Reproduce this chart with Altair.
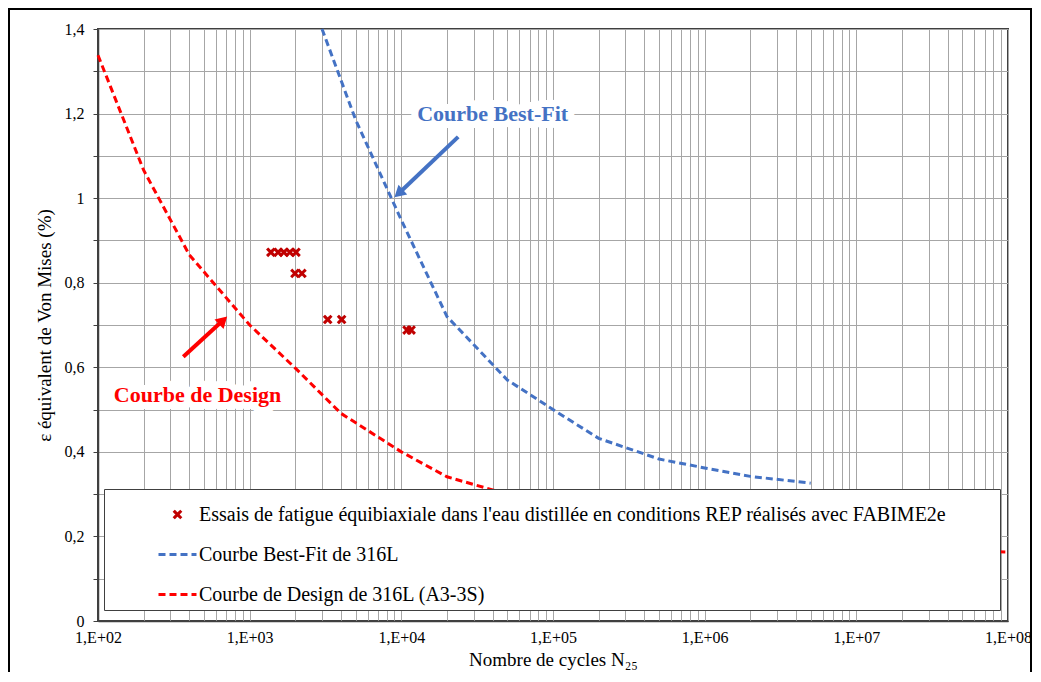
import altair as alt
import pandas as pd

# ---------------- data ----------------
essais_n = [1380, 1540, 1680, 1840, 2020, 1990, 2210, 3270, 4040, 10900, 11600]
essais_eps = [0.872, 0.872, 0.872, 0.872, 0.872, 0.822, 0.822, 0.713, 0.713, 0.688, 0.688]

bestfit_n = [3000, 5000, 1e4, 2e4, 5e4, 1e5, 2e5, 5e5, 1e6, 2e6, 5e6]
bestfit_eps = [1.40, 1.185, 0.948, 0.72, 0.57, 0.50, 0.432, 0.383, 0.362, 0.342, 0.326]

design_n = [100, 200, 400, 1000, 2000, 4000, 1e4, 2e4, 4e4, 1e5, 1e6, 1e7, 1e8]
design_eps = [1.338, 1.066, 0.866, 0.70, 0.598, 0.491, 0.400, 0.341, 0.31, 0.27, 0.20, 0.172, 0.163]

series_labels = [
    "Essais de fatigue équibiaxiale dans l'eau distillée en conditions REP  réalisés avec FABIME2e",
    "Courbe Best-Fit de 316L",
    "Courbe de Design de 316L (A3-3S)",
]

annot_text = ["Courbe Best-Fit", "Courbe de Design"]
annot_n = [40000, 453]
annot_eps = [1.2, 0.534]

# arrows: start (n, eps) -> tip (n2, eps2)
arrow_n = [23700, 365]
arrow_eps = [1.145, 0.625]
arrow_n2 = [9600, 668]
arrow_eps2 = [1.011, 0.711]

x_ticks = [m * 10 ** k for k in range(2, 8) for m in range(1, 10)] + [10 ** 8]
y_ticks = [round(i * 0.1, 1) for i in range(0, 15)]

# ---------------- styling ----------------
FONT = "Liberation Serif"
C_ESSAI = "#C00000"
C_BEST = "#4472C4"
C_DESIGN = "#FF0000"
X_PATH = "M-0.2,-0.2L0.2,0.2M-0.2,0.2L0.2,-0.2"
LINE_PATH = "M-1,0L1,0"

df_essais = pd.DataFrame({"n": essais_n, "eps": essais_eps, "serie": series_labels[0]})
df_best = pd.DataFrame({"n": bestfit_n, "eps": bestfit_eps})
df_design = pd.DataFrame({"n": design_n, "eps": design_eps})
df_annot = pd.DataFrame({"n": annot_n, "eps": annot_eps, "txt": annot_text})
df_arrow = pd.DataFrame({"n": arrow_n, "eps": arrow_eps, "n2": arrow_n2, "eps2": arrow_eps2})

xscale = alt.Scale(type="log", domain=[100, 1e8], nice=False)
yscale = alt.Scale(domain=[0, 1.4], nice=False)

x_label_expr = (
    "abs(log(datum.value)/LN10 - round(log(datum.value)/LN10)) < 0.001 ? "
    "'1,E+' + (round(log(datum.value)/LN10) < 10 ? '0' : '') + round(log(datum.value)/LN10) : ''"
)
y_label_expr = "round(datum.value*10) % 2 == 0 ? replace(format(datum.value, '.1~f'), '.', ',') : ''"

xaxis = alt.Axis(
    values=x_ticks, labelExpr=x_label_expr, ticks=False, grid=True,
    labelFlush=False, labelOverlap=False, labelPadding=8, titlePadding=5,
    labelFont=FONT, labelFontSize=16, labelColor="black",
    titleFont=FONT, titleFontSize=19, titleFontWeight="normal", titleColor="black",
)
yaxis = alt.Axis(
    values=y_ticks, labelExpr=y_label_expr, ticks=True, tickSize=5, grid=True,
    labelOverlap=False, labelPadding=9, titlePadding=10,
    labelFont=FONT, labelFontSize=16, labelColor="black",
    titleFont=FONT, titleFontSize=19, titleFontWeight="normal", titleColor="black",
)

X = alt.X("n:Q", scale=xscale, axis=xaxis, title="Nombre de cycles N₂₅")
Y = alt.Y("eps:Q", scale=yscale, axis=yaxis, title="ε équivalent de Von Mises (%)")

legend = alt.Legend(
    title="\u00a0", titleOrient="right", titlePadding=44, titleFontSize=1,
    orient="none", legendX=6, legendY=460,
    fillColor="white", strokeColor="#404040", padding=5,
    symbolOffset=48, symbolSize=1444, symbolStrokeWidth=3,
    labelFont=FONT, labelFontSize=20, labelColor="black", labelOffset=1,
    labelLimit=1200, rowPadding=9,
)

# frame around the whole figure (decoration)
frame = alt.Chart(pd.DataFrame({"a": [0]})).mark_rect(
    fillOpacity=0, stroke="black", strokeWidth=2
).encode(
    x=alt.value(-89), x2=alt.value(933), y=alt.value(-20), y2=alt.value(700)
)

halo = alt.Chart(df_annot).mark_text(
    font=FONT, fontSize=22, fontWeight="bold", fill="white", stroke="white",
    strokeWidth=14, strokeJoin="round"
).encode(x=X, y=Y, text="txt:N")

best_line = alt.Chart(df_best).mark_line(
    color=C_BEST, strokeWidth=3, strokeDash=[7, 4]
).encode(x=X, y=Y)

design_line = alt.Chart(df_design).mark_line(
    color=C_DESIGN, strokeWidth=3, strokeDash=[7, 4]
).encode(x=X, y=Y)

points = alt.Chart(df_essais).mark_point(
    filled=False, strokeWidth=3, size=1444, opacity=1
).encode(
    x=X, y=Y,
    color=alt.Color("serie:N", scale=alt.Scale(domain=series_labels, range=[C_ESSAI, C_BEST, C_DESIGN]), legend=legend),
    shape=alt.Shape("serie:N", scale=alt.Scale(domain=series_labels, range=[X_PATH, LINE_PATH, LINE_PATH]), legend=legend),
    strokeDash=alt.StrokeDash("serie:N", scale=alt.Scale(domain=series_labels, range=[[1, 0], [7, 4], [7, 4]]), legend=legend),
)

arrow_colors = [C_BEST, C_DESIGN]
arrow_angles = [228, 46]
arrow_layers = []
for i in range(2):
    d = df_arrow.iloc[[i]]
    arrow_layers.append(
        alt.Chart(d).mark_rule(color=arrow_colors[i], strokeWidth=4).encode(
            x=X, y=Y, x2="n2:Q", y2="eps2:Q"
        )
    )
    arrow_layers.append(
        alt.Chart(d).mark_point(
            shape="triangle-up", filled=True, color=arrow_colors[i], size=170,
            angle=arrow_angles[i], opacity=1
        ).encode(
            x=alt.X("n2:Q", scale=xscale, axis=xaxis, title="Nombre de cycles N₂₅"),
            y=alt.Y("eps2:Q", scale=yscale, axis=yaxis, title="ε équivalent de Von Mises (%)"),
        )
    )

text_layers = []
for i, col in enumerate([C_BEST, C_DESIGN]):
    text_layers.append(
        alt.Chart(df_annot.iloc[[i]]).mark_text(
            font=FONT, fontSize=22, fontWeight="bold", color=col
        ).encode(x=X, y=Y, text="txt:N")
    )

chart = alt.layer(
    frame, halo, best_line, design_line, points, *arrow_layers, *text_layers
).properties(
    width=910, height=592,
    padding={"left": 90, "top": 21, "right": 25, "bottom": 51},
    autosize=alt.AutoSizeParams(type="none"),
    background="white",
).configure(
    font=FONT
).configure_view(
    stroke="#404040", strokeWidth=2
).configure_axis(
    labelFont=FONT, labelFontSize=16, labelColor="black",
    titleFont=FONT, titleFontSize=19, titleFontWeight="normal", titleColor="black",
    gridColor="#a6a6a6", gridWidth=1, domainColor="#404040", domainWidth=1.5,
    tickColor="#404040",
).configure_legend(
    labelFont=FONT, labelFontSize=20, labelColor="black", labelLimit=1200
)

chart.save("out.html", embed_options={"renderer": "svg", "actions": False})
